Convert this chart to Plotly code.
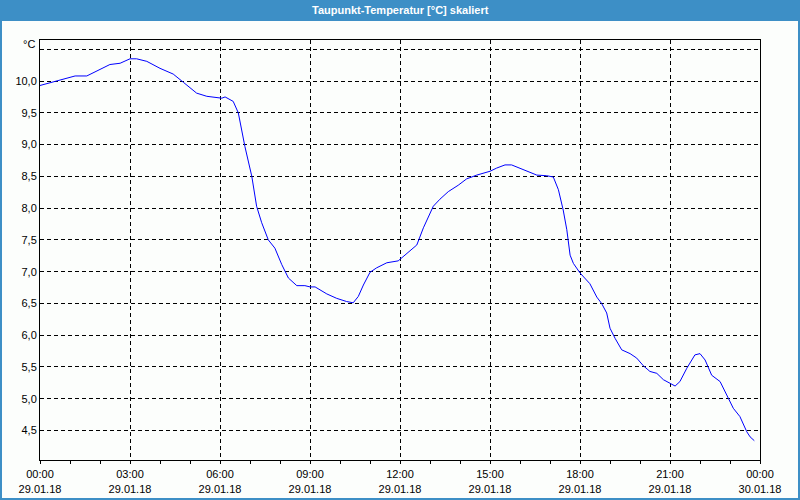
import plotly.graph_objects as go

# Hours since 29.01.18 00:00 and dew point temperature [°C]
hours = [0.0, 0.33, 0.78, 1.17, 1.56, 1.89, 2.33, 2.67, 3.0, 3.22, 3.56, 4.0, 4.44, 4.78,
         5.22, 5.56, 6.06, 6.17, 6.44, 6.61, 6.83, 7.06, 7.22, 7.39, 7.61, 7.83, 8.06,
         8.28, 8.56, 8.83, 9.0, 9.17, 9.33, 9.56, 9.89, 10.22, 10.44, 10.61, 10.78, 11.0,
         11.22, 11.56, 11.94, 12.22, 12.56, 12.78, 13.11, 13.33, 13.61, 13.94, 14.22,
         14.56, 15.0, 15.22, 15.5, 15.72, 16.11, 16.56, 16.89, 17.11, 17.28, 17.44, 17.56,
         17.67, 17.78, 18.0, 18.33, 18.56, 18.72, 18.89, 19.0, 19.17, 19.39, 19.67, 19.89,
         20.11, 20.33, 20.56, 20.78, 21.0, 21.17, 21.33, 21.56, 21.83, 22.0, 22.17, 22.39,
         22.67, 22.89, 23.11, 23.33, 23.56, 23.67, 23.81]
dewpoint = [9.93, 9.97, 10.03, 10.08, 10.08, 10.16, 10.26, 10.28, 10.35, 10.35, 10.31, 10.20,
            10.11, 9.98, 9.81, 9.76, 9.73, 9.75, 9.68, 9.50, 8.97, 8.50, 8.03, 7.77, 7.50,
            7.37, 7.11, 6.90, 6.78, 6.78, 6.76, 6.76, 6.71, 6.65, 6.58, 6.53, 6.51, 6.61,
            6.79, 6.99, 7.06, 7.14, 7.17, 7.29, 7.42, 7.69, 8.03, 8.14, 8.26, 8.36, 8.46,
            8.52, 8.58, 8.63, 8.68, 8.68, 8.60, 8.52, 8.51, 8.49, 8.29, 7.97, 7.66, 7.26,
            7.13, 6.98, 6.81, 6.60, 6.50, 6.35, 6.11, 5.95, 5.77, 5.71, 5.64, 5.52, 5.43,
            5.40, 5.30, 5.24, 5.20, 5.27, 5.48, 5.69, 5.71, 5.61, 5.37, 5.27, 5.06, 4.85,
            4.72, 4.48, 4.40, 4.34]

tick_hours = [0, 3, 6, 9, 12, 15, 18, 21, 24]
tick_times = ["00:00", "03:00", "06:00", "09:00", "12:00", "15:00", "18:00", "21:00", "00:00"]
tick_dates = ["29.01.18"] * 8 + ["30.01.18"]
y_ticks = [4.5, 5.0, 5.5, 6.0, 6.5, 7.0, 7.5, 8.0, 8.5, 9.0, 9.5, 10.0]
title_text = "Taupunkt-Temperatur [°C] skaliert"
unit_text = "°C"

FONT = "Liberation Sans"
fig = go.Figure()
fig.add_trace(go.Scatter(x=hours, y=dewpoint, mode="lines",
                         line=dict(color="#0000ff", width=1), hoverinfo="skip"))

fig.update_layout(
    width=800, height=500,
    margin=dict(l=40, r=40, t=40, b=40, autoexpand=False),
    paper_bgcolor="#fcfefc", plot_bgcolor="#fcfefc",
    showlegend=False,
    separators=",.",
    font=dict(family=FONT, size=11, color="#000000"),
)
fig.update_xaxes(
    range=[0, 24], tickmode="array", tickvals=tick_hours,
    ticktext=[f"{t}<br>{d}" for t, d in zip(tick_times, tick_dates)],
    showline=True, linecolor="black", linewidth=1, mirror=True,
    showgrid=True, gridcolor="black", gridwidth=1, griddash="4px,3px",
    ticks="outside", ticklen=3, tickcolor="black",
    minor=dict(dtick=1, ticks="outside", ticklen=3, tickcolor="black", showgrid=False),
    zeroline=False, automargin=False, ticklabelstandoff=1,
    tickfont=dict(family=FONT, size=11),
)
fig.update_yaxes(
    range=[4.036, 10.646], tickmode="array", tickvals=y_ticks + [10.5],
    ticktext=[f"{v:.1f}".replace(".", ",") for v in y_ticks] + [""],
    showline=True, linecolor="black", linewidth=1, mirror=True,
    showgrid=True, gridcolor="black", gridwidth=1, griddash="4px,3px",
    ticks="", zeroline=False, automargin=False, tickfont=dict(family=FONT, size=11),
)

# window frame and title bar
fig.add_shape(type="rect", xref="paper", yref="paper", x0=-40/720, x1=760/720,
              y0=(460-21)/420, y1=460/420, fillcolor="#3d8fc6", line=dict(width=0), layer="below")
fig.add_shape(type="rect", xref="paper", yref="paper", x0=-39/720, x1=759/720,
              y0=-39/420, y1=459/420, fillcolor="rgba(0,0,0,0)",
              line=dict(color="#3d8fc6", width=2), layer="below")
fig.add_annotation(text=title_text, xref="paper", yref="paper", x=0.5, y=(460-10)/420,
                   showarrow=False, font=dict(family=FONT, size=11, color="white", weight="bold"),
                   xanchor="center", yanchor="middle")
fig.add_annotation(text=unit_text, xref="paper", yref="y", x=0, y=10.5, xshift=-3, yshift=5,
                   showarrow=False, xanchor="right", yanchor="middle",
                   font=dict(family=FONT, size=11))

fig.write_html("out.html")
